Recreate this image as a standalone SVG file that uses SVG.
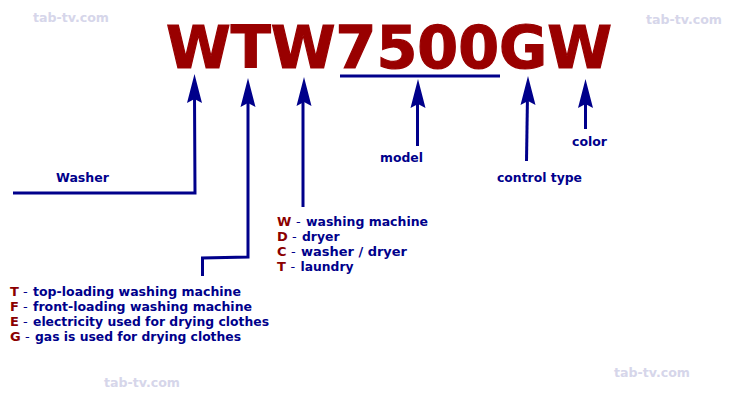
<svg xmlns="http://www.w3.org/2000/svg" width="750" height="400" viewBox="0 0 750 400">
<style>
text{font-family:"DejaVu Sans",Verdana,sans-serif;font-weight:bold}
.t{font-size:13px;fill:#00008b}
.d{font-size:13px;fill:#00008b;font-weight:normal}
.r{font-size:13px;fill:#8b0000}
.wm{font-size:13px;fill:#d6d6ea}
.c{fill:none;stroke:#00008b;stroke-width:3}
.big{font-size:58px;fill:#990000;stroke:#990000;stroke-width:1.2px}
</style>
<rect width="750" height="400" fill="#fff"/>
<text x="33" y="22" class="wm" textLength="76" lengthAdjust="spacingAndGlyphs">tab-tv.com</text>
<text x="646" y="24" class="wm" textLength="76" lengthAdjust="spacingAndGlyphs">tab-tv.com</text>
<text x="104" y="387" class="wm" textLength="76" lengthAdjust="spacingAndGlyphs">tab-tv.com</text>
<text x="614" y="377" class="wm" textLength="76" lengthAdjust="spacingAndGlyphs">tab-tv.com</text>
<g id="title"><text x="166" y="67.500" class="big" textLength="446" lengthAdjust="spacingAndGlyphs">WTW7500GW</text></g>
<g id="connectors">
<path class="c" d="M13 193H195L194.500 95"/>
<path class="c" d="M202.500 276V258L248 257V95"/>
<path class="c" d="M303 207V95"/>
<path class="c" d="M340 76H500"/>
<path class="c" d="M417.500 146V95"/>
<path class="c" d="M526.500 161L527.500 95"/>
<path class="c" d="M585.500 129V95"/>
<g fill="#00008b">
<path d="M194.500 74L202 103L194.500 99L187 103Z"/>
<path d="M248 78L255.500 107L248 103L240.500 107Z"/>
<path d="M304 77L311.500 106L304 102L296.500 106Z"/>
<path d="M418 79L425.500 108L418 104L410.500 108Z"/>
<path d="M528 76L535.500 105L528 101L520.500 105Z"/>
<path d="M585.500 79L593 108L585.500 104L578 108Z"/>
</g>
</g>
<g id="washer"><text x="56" y="182" class="t" textLength="53" lengthAdjust="spacingAndGlyphs">Washer</text></g>
<g id="model"><text x="380" y="162" class="t" textLength="43" lengthAdjust="spacingAndGlyphs">model</text></g>
<g id="control"><text x="497" y="182" class="t" textLength="85" lengthAdjust="spacingAndGlyphs">control type</text></g>
<g id="color"><text x="572" y="146" class="t" textLength="35" lengthAdjust="spacingAndGlyphs">color</text></g>
<g id="type-list">
<text x="277" y="226" class="r">W</text><text x="296" y="226" class="d">-</text><text x="306" y="226" class="t" textLength="122" lengthAdjust="spacingAndGlyphs">washing machine</text>
<text x="277" y="241" class="r">D</text><text x="292" y="241" class="d">-</text><text x="302" y="241" class="t" textLength="37.500" lengthAdjust="spacingAndGlyphs">dryer</text>
<text x="277" y="256" class="r">C</text><text x="291" y="256" class="d">-</text><text x="301" y="256" class="t" textLength="106" lengthAdjust="spacingAndGlyphs">washer / dryer</text>
<text x="277" y="271" class="r">T</text><text x="290.500" y="271" class="d">-</text><text x="300.500" y="271" class="t" textLength="53" lengthAdjust="spacingAndGlyphs">laundry</text>
</g>
<g id="load-list">
<text x="10" y="296" class="r">T</text><text x="23" y="296" class="d">-</text><text x="33" y="296" class="t" textLength="208" lengthAdjust="spacingAndGlyphs">top-loading washing machine</text>
<text x="10" y="311" class="r">F</text><text x="23" y="311" class="d">-</text><text x="33" y="311" class="t" textLength="219" lengthAdjust="spacingAndGlyphs">front-loading washing machine</text>
<text x="10" y="326" class="r">E</text><text x="23" y="326" class="d">-</text><text x="33" y="326" class="t" textLength="236" lengthAdjust="spacingAndGlyphs">electricity used for drying clothes</text>
<text x="10" y="341" class="r">G</text><text x="25" y="341" class="d">-</text><text x="35" y="341" class="t" textLength="206" lengthAdjust="spacingAndGlyphs">gas is used for drying clothes</text>
</g>
</svg>
